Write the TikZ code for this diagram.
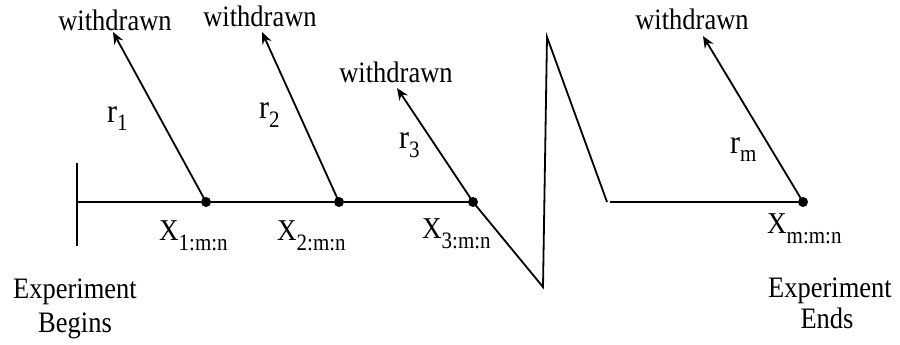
\documentclass[tikz,border=0pt]{standalone}
\usepackage{fontspec}
\setmainfont{Liberation Serif}
\usetikzlibrary{arrows.meta}
\begin{document}
\begin{tikzpicture}[x=1pt,y=-1pt,
  axis/.style={line width=2.4pt},
  ray/.style={line width=1.8pt,-{Stealth[length=12pt,width=10pt,inset=4pt]}},
  dot/.style={circle,fill=black,inner sep=0pt,minimum size=10pt},
  wtxt/.style={inner sep=0pt,anchor=base,font=\fontsize{26.5}{30}\selectfont},
  lbl/.style={inner sep=0pt,anchor=base west},
]
\useasboundingbox (0,0) rectangle (900,345);
\newcommand{\vs}[1]{\scalebox{1}[1.12]{#1}}
\newcommand{\xlab}[1]{\vs{\fontsize{27}{30}\selectfont X}\raisebox{-10pt}{\vs{\fontsize{21}{22}\selectfont #1}}}
\newcommand{\rlab}[1]{\vs{\fontsize{30}{30}\selectfont r}\raisebox{-9pt}{\vs{\fontsize{21}{22}\selectfont #1}}}

% points
\node[dot] (d1) at (206,202) {};
\node[dot] (d2) at (339,202) {};
\node[dot] (d3) at (473,202) {};
\node[dot] (dm) at (803,202) {};
\coordinate (s0) at (77,202);
\coordinate (st) at (77,163);
\coordinate (sb) at (77,246);
\coordinate (z1) at (543,287);
\coordinate (z2) at (547,37);
\coordinate (z3) at (607,202);
\coordinate (z4) at (610,202);
\coordinate (t1) at (113,32);
\coordinate (t2) at (262,32);
\coordinate (t3) at (397,88);
\coordinate (tm) at (703,36);

% axis
\draw[axis] (st) -- (sb);
\draw[axis] (s0) -- (d1) -- (d2) -- (d3);
\draw[line width=1.8pt,line join=miter] (d3.center) -- (z1) -- (z2) -- (z3);
\draw[axis] (z4) -- (dm);

% rays
\draw[ray] (d1.center) -- (t1);
\draw[ray] (d2.center) -- (t2);
\draw[ray] (d3.center) -- (t3);
\draw[ray] (dm.center) -- (tm);

% withdrawn labels
\node[wtxt] (w1) at (115,31) {\vs{withdrawn}};
\node[wtxt] (w2) at (260,27) {\vs{withdrawn}};
\node[wtxt] (w3) at (396,83) {\vs{withdrawn}};
\node[wtxt] (wm) at (692,30) {\vs{withdrawn}};

% r labels
\node[lbl] (r1) at (107,122) {\rlab{1}};
\node[lbl] (r2) at (259,118) {\rlab{2}};
\node[lbl] (r3) at (399,148) {\rlab{3}};
\node[lbl] (rm) at (730,153) {\rlab{m}};

% x labels
\node[lbl] (x1) at (159,240) {\xlab{1:m:n}};
\node[lbl] (x2) at (277,240) {\xlab{2:m:n}};
\node[lbl] (x3) at (422,238) {\xlab{3:m:n}};
\node[lbl] (xm) at (767,233) {\xlab{m:m:n}};

% experiment labels
\node[wtxt] (eb1) at (75,298) {\vs{Experiment}};
\node[wtxt] (eb2) at (75,332) {\vs{Begins}};
\node[wtxt] (ee1) at (830,297) {\vs{Experiment}};
\node[wtxt] (ee2) at (827,328) {\vs{Ends}};
\end{tikzpicture}
\end{document}
